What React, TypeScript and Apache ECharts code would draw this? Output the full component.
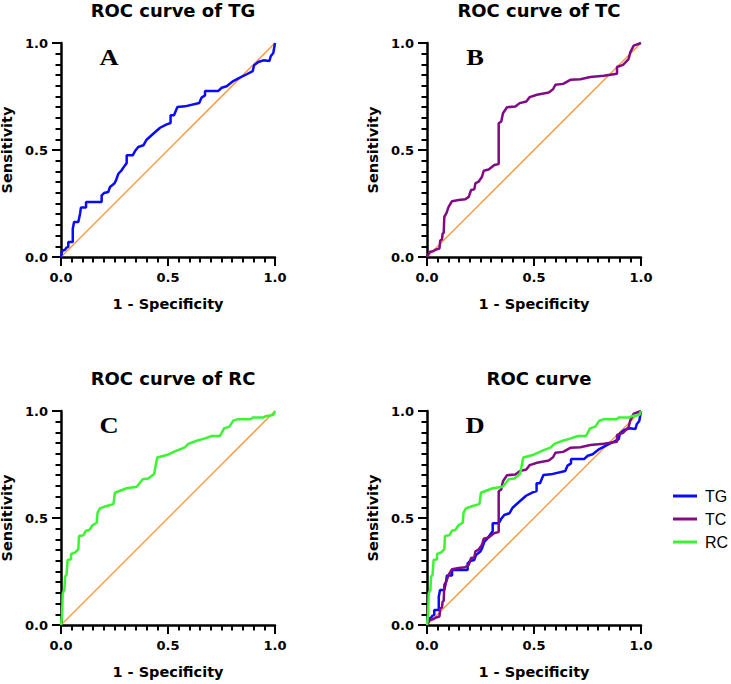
import { useEffect, useRef } from "react";
import * as echarts from "echarts";

// ROC coordinates: false positive rate (1 - specificity) and sensitivity
const tgFpr = [0, 0.005, 0.019, 0.026, 0.034, 0.034, 0.055, 0.055, 0.061, 0.081, 0.089, 0.093, 0.117, 0.117, 0.19, 0.19, 0.201, 0.221, 0.229, 0.249, 0.257, 0.268, 0.283, 0.299, 0.307, 0.307, 0.335, 0.346, 0.361, 0.385, 0.4, 0.431, 0.463, 0.494, 0.512, 0.512, 0.528, 0.544, 0.579, 0.646, 0.657, 0.673, 0.673, 0.735, 0.751, 0.774, 0.805, 0.836, 0.868, 0.896, 0.902, 0.922, 0.946, 0.974, 0.98, 0.992, 1];
const tgTpr = [0, 0.028, 0.034, 0.044, 0.047, 0.07, 0.07, 0.132, 0.164, 0.164, 0.202, 0.231, 0.231, 0.257, 0.257, 0.288, 0.299, 0.304, 0.327, 0.343, 0.358, 0.389, 0.405, 0.428, 0.439, 0.475, 0.475, 0.495, 0.514, 0.522, 0.548, 0.576, 0.604, 0.62, 0.626, 0.662, 0.662, 0.701, 0.704, 0.72, 0.745, 0.755, 0.776, 0.776, 0.791, 0.798, 0.822, 0.838, 0.854, 0.869, 0.896, 0.911, 0.919, 0.916, 0.938, 0.953, 1];

const tcFpr = [0, 0.012, 0.031, 0.039, 0.058, 0.062, 0.07, 0.073, 0.078, 0.081, 0.09, 0.101, 0.117, 0.148, 0.179, 0.195, 0.206, 0.221, 0.226, 0.241, 0.257, 0.265, 0.288, 0.315, 0.335, 0.335, 0.347, 0.355, 0.374, 0.413, 0.433, 0.464, 0.48, 0.514, 0.569, 0.589, 0.6, 0.636, 0.67, 0.717, 0.763, 0.826, 0.888, 0.888, 0.916, 0.942, 0.95, 0.966, 1];
const tcTpr = [0, 0.023, 0.028, 0.034, 0.039, 0.078, 0.081, 0.109, 0.113, 0.188, 0.203, 0.234, 0.261, 0.266, 0.27, 0.281, 0.313, 0.316, 0.344, 0.352, 0.375, 0.403, 0.409, 0.43, 0.434, 0.625, 0.633, 0.672, 0.7, 0.703, 0.719, 0.727, 0.747, 0.758, 0.769, 0.784, 0.805, 0.809, 0.828, 0.831, 0.841, 0.847, 0.856, 0.888, 0.898, 0.925, 0.956, 0.988, 1];

const rcFpr = [0, 0.005, 0.008, 0.016, 0.019, 0.026, 0.031, 0.047, 0.047, 0.065, 0.081, 0.084, 0.104, 0.117, 0.132, 0.148, 0.167, 0.171, 0.182, 0.213, 0.245, 0.252, 0.307, 0.354, 0.382, 0.408, 0.435, 0.45, 0.494, 0.54, 0.579, 0.595, 0.634, 0.673, 0.704, 0.743, 0.762, 0.787, 0.805, 0.824, 0.886, 0.896, 0.946, 0.961, 0.992, 1];
const rcTpr = [0, 0.047, 0.148, 0.164, 0.226, 0.234, 0.304, 0.307, 0.332, 0.338, 0.354, 0.416, 0.419, 0.441, 0.444, 0.467, 0.478, 0.525, 0.545, 0.556, 0.565, 0.618, 0.639, 0.646, 0.681, 0.685, 0.706, 0.783, 0.794, 0.815, 0.83, 0.846, 0.861, 0.872, 0.883, 0.883, 0.919, 0.927, 0.955, 0.961, 0.961, 0.97, 0.97, 0.977, 0.981, 1];

// chance line
const refFpr = [0, 1];
const refTpr = [0, 1];

const markerNames = ["TG", "TC", "RC"];
const panelTitles = ["ROC curve of TG", "ROC curve of TC", "ROC curve of RC", "ROC curve"];
const panelLetters = ["A", "B", "C", "D"];
const panelCurves = [["TG"], ["TC"], ["RC"], ["TG", "TC", "RC"]];

const zip = (xs: number[], ys: number[]) => xs.map((x, i) => [x, ys[i]]);

const curveData: Record<string, number[][]> = {
  TG: zip(tgFpr, tgTpr),
  TC: zip(tcFpr, tcTpr),
  RC: zip(rcFpr, rcTpr),
};
const curveColor: Record<string, string> = {
  TG: "#0a0aff",
  TC: "#820a86",
  RC: "#3cf532",
};

// each panel is its own chart in a 2 x 2 arrangement; every chart gets a
// spare margin around its cell so that axis names never touch its edge
const MARGIN = 20;
const cells = [
  { x: 0, y: 0, w: 366, h: 342, plotTop: 43 },
  { x: 366, y: 0, w: 365, h: 342, plotTop: 43 },
  { x: 0, y: 342, w: 366, h: 342, plotTop: 69 },
  { x: 366, y: 342, w: 365, h: 342, plotTop: 69 },
];
const PLOT_LEFT = 61;
const PLOT = 214;
const BOLD_SANS = "DejaVu Sans";

function makeAxis(name: string, isY: boolean) {
  return {
    type: "value",
    min: 0,
    max: 1,
    interval: 0.5,
    name,
    nameLocation: "middle",
    nameGap: isY ? 45 : 39,
    nameTextStyle: {
      color: "#000",
      fontFamily: BOLD_SANS,
      fontWeight: "bold",
      fontSize: 14.5,
    },
    axisLine: { show: true, onZero: false, lineStyle: { color: "#000", width: 2.5 } },
    axisTick: { show: true, length: 9, lineStyle: { color: "#000", width: 2 } },
    minorTick: { show: true, splitNumber: 10, length: 5.5, lineStyle: { color: "#000", width: 2 } },
    splitLine: { show: false },
    axisLabel: {
      color: "#000",
      fontFamily: BOLD_SANS,
      fontWeight: "bold",
      fontSize: 13,
      margin: isY ? 13 : 14,
      formatter: (v: number) => v.toFixed(1),
    },
  };
}

function buildOption(i: number) {
  const cell = cells[i];
  const left = PLOT_LEFT + MARGIN;
  const top = cell.plotTop + MARGIN;

  const series: any[] = [
    {
      name: "reference",
      type: "line",
      data: zip(refFpr, refTpr),
      showSymbol: false,
      lineStyle: { color: "#f5953a", width: 1.3 },
      itemStyle: { color: "#f5953a" },
      clip: false,
    },
  ];
  panelCurves[i].forEach((key) => {
    series.push({
      name: key,
      type: "line",
      data: curveData[key],
      showSymbol: false,
      clip: false,
      lineStyle: { color: curveColor[key], width: 2.5 },
      itemStyle: { color: curveColor[key] },
    });
  });

  const option: any = {
    animation: false,
    title: {
      text: panelTitles[i],
      left: left + PLOT / 2,
      top: top - 47,
      textAlign: "center",
      textStyle: { color: "#000", fontFamily: BOLD_SANS, fontWeight: "bold", fontSize: 18 },
    },
    grid: { left, top, width: PLOT, height: PLOT },
    xAxis: makeAxis("1 - Specificity", false),
    yAxis: makeAxis("Sensitivity", true),
    series,
    graphic: [
      {
        type: "text",
        x: left + 48,
        y: top + 14,
        scaleX: 1.15,
        style: {
          text: panelLetters[i],
          font: 'bold 23px "Liberation Serif"',
          fill: "#000",
          textAlign: "center",
          textVerticalAlign: "middle",
        },
      },
    ],
  };

  if (panelCurves[i].length > 1) {
    option.legend = {
      data: markerNames,
      orient: "vertical",
      left: 302 + MARGIN,
      top: 140 + MARGIN,
      icon: "rect",
      itemWidth: 24,
      itemHeight: 3,
      itemGap: 5,
      selectedMode: false,
      textStyle: {
        color: "#000",
        fontFamily: "Liberation Sans",
        fontSize: 16,
        lineHeight: 18,
        padding: [0, 0, 0, 3],
      },
    };
  }
  return option;
}

function Panel({ index }: { index: number }) {
  const ref = useRef<HTMLDivElement>(null);
  const cell = cells[index];

  useEffect(() => {
    if (!ref.current) return;
    const chart = echarts.init(ref.current, null, { renderer: "svg" });
    chart.setOption(buildOption(index));
    return () => chart.dispose();
  }, [index]);

  return (
    <div
      ref={ref}
      style={{
        position: "absolute",
        left: cell.x - MARGIN,
        top: cell.y - MARGIN,
        width: cell.w + 2 * MARGIN,
        height: cell.h + 2 * MARGIN,
      }}
    />
  );
}

export default function App() {
  return (
    <div
      style={{
        position: "fixed",
        left: 0,
        top: 0,
        width: 731,
        height: 684,
        overflow: "hidden",
        background: "#fff",
      }}
    >
      {cells.map((_, i) => (
        <Panel key={i} index={i} />
      ))}
    </div>
  );
}
